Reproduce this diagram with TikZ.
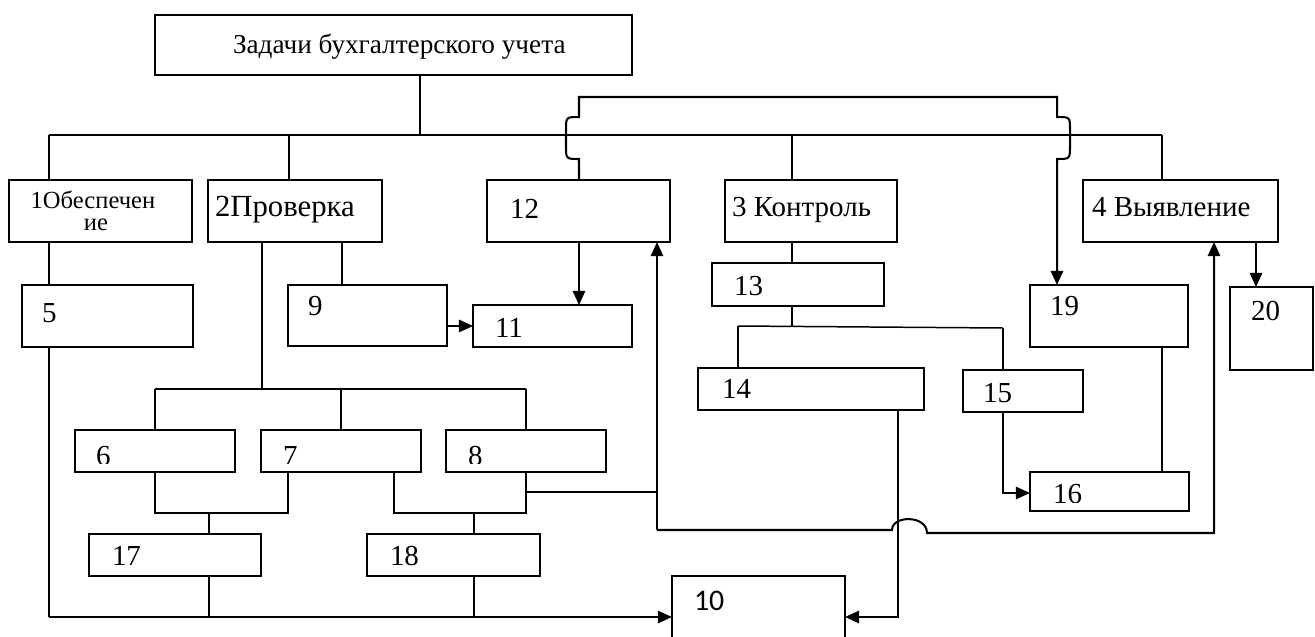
\documentclass[tikz,border=0pt]{standalone}
\usepackage{fontspec}
\setmainfont{Liberation Serif}
\newfontfamily\calfont{Carlito}
\usetikzlibrary{arrows.meta}
\newcommand\bx[8]{%
  \node[box, minimum width={(#4-#2)*0.02cm}, minimum height={(#5-#3)*0.02cm},
    path picture={\clip (path picture bounding box.north west) rectangle ([yshift=0.18cm]path picture bounding box.south east);
      \node[lbl] at ([shift={(#6,#7)}]path picture bounding box.north west) {#8};}]
    (#1) at (#2,#3) {};}
\begin{document}
\begin{tikzpicture}[x=0.02cm,y=-0.02cm,line width=0.85pt,
  box/.style={draw, rectangle, inner sep=0pt, outer sep=0pt, anchor=north west, line width=0.85pt},
  lbl/.style={draw=none, minimum width=0pt, minimum height=0pt, anchor=base west, inner sep=0pt, font=\fontsize{16.5}{19}\selectfont},
  conn/.style={line width=0.85pt},
  thick conn/.style={line width=1.15pt},
  arr/.style={-{Triangle[length=8pt,width=7pt]}}]
\useasboundingbox (0,0) rectangle (1315,636);
% boxes
\bx{title}{155}{15}{632}{75}{78}{38}{\fontsize{15.5}{18}\selectfont Задачи бухгалтерского учета}
\node[box, minimum width={183*0.02cm}, minimum height={62*0.02cm}] (b1) at (9,180) {};
\node[anchor=base, inner sep=0pt, font=\fontsize{14}{16}\selectfont] (b1t1) at (93,208) {1Обеспечен};
\node[anchor=base, inner sep=0pt, font=\fontsize{14}{16}\selectfont] (b1t2) at (96,230) {ие};
\bx{b2}{208}{180}{382}{242}{7}{36}{\fontsize{17.5}{20}\selectfont 2Проверка}
\bx{b12}{487}{180}{670}{242}{23}{38}{12}
\bx{b3}{725}{180}{897}{242}{7}{36}{\fontsize{16.5}{19}\selectfont 3 Контроль}
\bx{b4}{1083}{180}{1278}{242}{9}{36}{\fontsize{16.5}{19}\selectfont 4 Выявление}
\bx{b5}{22}{285}{193}{347}{20}{37}{5}
\bx{b9}{288}{285}{447}{346}{20}{30}{9}
\bx{b11}{473}{305}{632}{347}{22}{32}{11}
\bx{b13}{712}{263}{884}{306}{22}{32}{13}
\bx{b19}{1030}{285}{1188}{347}{20}{30}{19}
\bx{b20}{1230}{287}{1313}{370}{21}{33}{20}
\bx{b14}{698}{368}{924}{410}{24}{30}{14}
\bx{b15}{963}{370}{1083}{412}{20}{32}{15}
\bx{b6}{75}{430}{235}{472}{21}{35}{6}
\bx{b7}{261}{430}{421}{472}{22}{35}{7}
\bx{b8}{446}{430}{606}{472}{22}{35}{8}
\bx{b16}{1030}{472}{1189}{511}{23}{31}{16}
\bx{b17}{89}{534}{261}{576}{23}{31}{17}
\bx{b18}{367}{534}{540}{576}{23}{31}{18}
\bx{b10}{672}{576}{845}{650}{22}{34}{\calfont\fontsize{17}{20}\selectfont 10}
% junction coordinates
\coordinate (t) at (420,135);
\coordinate (busL) at (49,135);
\coordinate (busR) at (1162,135);
\coordinate (x2) at (289,135);
\coordinate (x3) at (792,135);
\coordinate (tl) at (579,97);
\coordinate (tr) at (1057,97);
\coordinate (bot) at (49,617);
\coordinate (j17) at (209,617);
\coordinate (j18) at (474,617);
\coordinate (j14) at (898,617);
\coordinate (p2) at (262,389);
\coordinate (busL2) at (155,389);
\coordinate (busM2) at (341,389);
\coordinate (busR2) at (526,389);
\coordinate (x9) at (342,285);
\coordinate (y9) at (447,326);
\coordinate (x11) at (579,305);
\coordinate (l6) at (155,513);
\coordinate (r7) at (288,513);
\coordinate (m17) at (209,513);
\coordinate (l7) at (394,513);
\coordinate (r8) at (526,513);
\coordinate (m18) at (474,513);
\coordinate (e8) at (526,492);
\coordinate (c12) at (657,492);
\coordinate (k) at (657,530);
\coordinate (k4) at (1214,533);
\coordinate (m13) at (792,326);
\coordinate (l13) at (738,326);
\coordinate (r13) at (1003,328);
\coordinate (y16) at (1003,493);
\coordinate (x20) at (1256,242);
% top connectors
\draw[conn] (title.south -| t) -- (t);
\draw[conn] (busL) -- (busR);
\draw[conn] (busL) -- (b1.north -| busL);
\draw[conn] (x2) -- (b2.north -| x2);
\draw[conn] (x3) -- (b3.north -| x3);
\draw[conn] (busR) -- (b4.north -| busR);
% route 12 -> 19 with jumps over the bus
\draw[thick conn, arr] (b12.north -| tl) -- (579,159) .. controls (566,159) .. (566,146) -- (566,130)
  .. controls (566,117) .. (579,117) -- (tl) -- (tr) -- (1057,117)
  .. controls (1070,117) .. (1070,130) -- (1070,146) .. controls (1070,159) .. (1057,159)
  -- (b19.north -| tr);
% left column
\draw[conn] (b1.south -| busL) -- (b5.north -| busL);
\draw[conn] (b5.south -| bot) -- (bot);
\draw[conn, arr] (bot) -- (b10.west |- bot);
\draw[conn] (b17.south -| j17) -- (j17);
\draw[conn] (b18.south -| j18) -- (j18);
\draw[thick conn, arr] (b14.south -| j14) -- (j14) -- (b10.east |- j14);
% 2 -> 6,7,8 and 9
\draw[conn] (b2.south -| p2) -- (p2);
\draw[conn] (busL2) -- (busR2);
\draw[conn] (busL2) -- (b6.north -| busL2);
\draw[conn] (busM2) -- (b7.north -| busM2);
\draw[conn] (busR2) -- (b8.north -| busR2);
\draw[conn] (b2.south -| x9) -- (b9.north -| x9);
\draw[thick conn, arr] (y9) -- (b11.west |- y9);
\draw[thick conn, arr] (b12.south -| x11) -- (b11.north -| x11);
% 6,7 -> 17 ; 7,8 -> 18
\draw[conn] (b6.south -| l6) -- (l6) -- (r7) -- (b7.south -| r7);
\draw[conn] (m17) -- (b17.north -| m17);
\draw[conn] (b7.south -| l7) -- (l7) -- (r8) -- (b8.south -| r8);
\draw[conn] (m18) -- (b18.north -| m18);
% 8 -> 12 and 4
\draw[thick conn] (e8) -- (c12);
\draw[thick conn, arr] (k) -- (b12.south -| k);
\draw[thick conn, arr] (k) -- (892,530) .. controls (892,515) and (927,515) .. (927,533) -- (k4) -- (b4.south -| k4);
% 3 -> 13 -> 14, 15
\draw[conn] (b3.south -| x3) -- (b13.north -| x3);
\draw[conn] (b13.south -| m13) -- (m13);
\draw[conn] (l13) -- (r13);
\draw[conn] (l13) -- (b14.north -| l13);
\draw[conn] (r13) -- (b15.north -| r13);
\draw[conn, arr] (b15.south -| y16) -- (y16) -- (b16.west |- y16);
\draw[conn] (b19.south -| busR) -- (b16.north -| busR);
\draw[thick conn, arr] (x20) -- (b20.north -| x20);
\end{tikzpicture}
\end{document}
